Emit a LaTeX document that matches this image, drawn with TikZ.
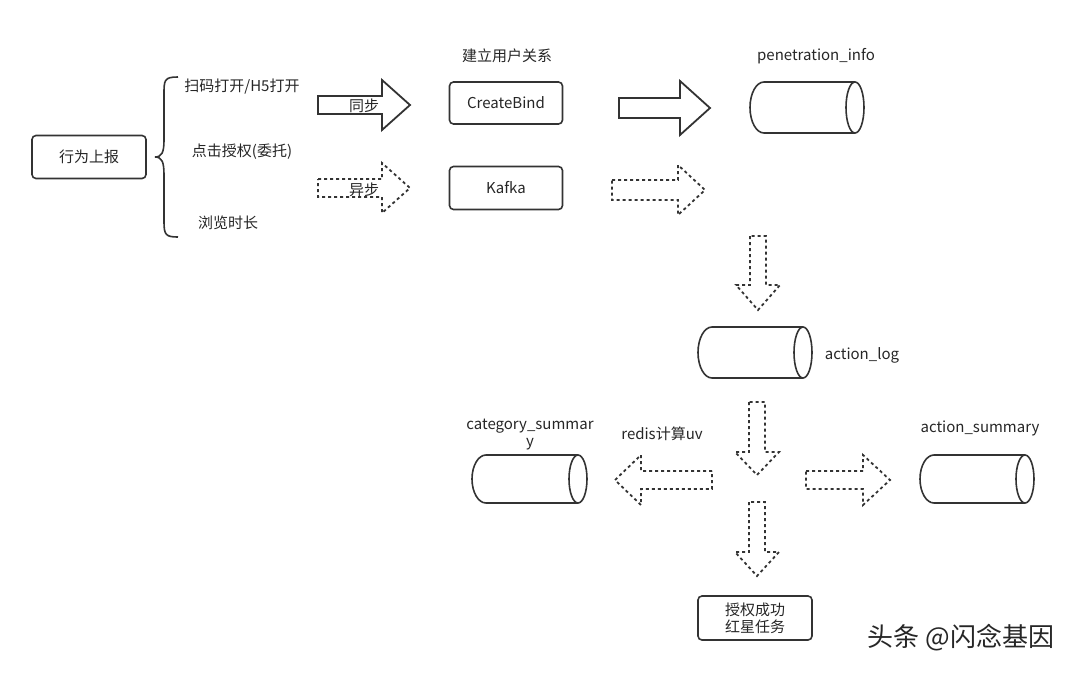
\documentclass[tikz,border=0pt]{standalone}
\usepackage{fontspec}
\setmainfont{Noto Sans CJK SC}
\begin{document}
\begin{tikzpicture}[x=1pt,y=-1pt,
  box/.style={draw=black!80,line width=1.6pt,rounded corners=4pt},
  lbl/.style={font=\fontsize{15}{17}\selectfont,text=black!85,inner sep=0pt},
  solidar/.style={draw=black!80,line width=1.8pt,line join=miter},
  dotar/.style={draw=black!80,line width=1.8pt,dash pattern=on 3pt off 3pt},
  cyl/.style={draw=black!80,line width=1.6pt}]
\useasboundingbox (0,0) rectangle (1080,673);
\newcommand\rarr[7]{\path[#7] (#1,#4-#5) -- (#3,#4-#5) -- (#3,#4-#6) -- (#2,#4) -- (#3,#4+#6) -- (#3,#4+#5) -- (#1,#4+#5) -- cycle;}
\newcommand\darr[7]{\path[#7] (#4-#5,#1) -- (#4-#5,#3) -- (#4-#6,#3) -- (#4,#2) -- (#4+#6,#3) -- (#4+#5,#3) -- (#4+#5,#1) -- cycle;}
\newcommand\cylh[4]{\path[cyl] (#2-9,#3) -- (#1+14,#3) arc[start angle=270,end angle=90,x radius=14,y radius={(#4-#3)/2}] -- (#2-9,#4); \path[cyl] (#2-9,{(#3+#4)/2}) ellipse[x radius=9,y radius={(#4-#3)/2}];}
\node[box,lbl,minimum width=114pt,minimum height=43pt] (xw) at (89,157) {行为上报};
\node[box,lbl,minimum width=113pt,minimum height=42pt] (cb) at (506,103) {CreateBind};
\node[box,lbl,minimum width=113pt,minimum height=43pt] (kf) at (506,188) {Kafka};
\node[box,lbl,minimum width=114pt,minimum height=44pt,align=center] (sq) at (755,618) {授权成功\\红星任务};
\draw[black!80,line width=1.6pt] (178,77) .. controls (164,77) and (164,80) .. (164,95) -- (164,140) .. controls (164,152) and (162,157) .. (155,157) .. controls (162,157) and (164,162) .. (164,175) -- (164,222) .. controls (164,235) and (166,237) .. (178,237);
\node[lbl] (t1) at (242,87) {扫码打开/H5打开};
\node[lbl] (t2) at (242,152) {点击授权(委托)};
\node[lbl] (t3) at (228,223) {浏览时长};
\node[lbl] (t4) at (507,56) {建立用户关系};
\rarr{318}{410}{382}{105}{9}{25}{solidar}
\node[lbl] (tb) at (364,106) {同步};
\rarr{619}{710}{680}{108}{10}{27}{solidar}
\rarr{318}{410}{382}{188}{9}{25}{dotar}
\node[lbl] (yb) at (364,190) {异步};
\rarr{612}{705}{678}{190}{10}{25}{dotar}
\darr{236}{310}{285}{758}{8}{22}{dotar}
\darr{402}{475}{452}{757}{8}{22}{dotar}
\darr{502}{576}{552}{757}{8}{22}{dotar}
\rarr{712}{615}{641}{480}{9}{25}{dotar}
\rarr{806}{890}{863}{480}{9}{25}{dotar}
\cylh{750}{864}{82}{133}
\cylh{698}{812}{327}{378}
\cylh{472}{587}{455}{503}
\cylh{920}{1034}{455}{503}
\node[lbl] (pi) at (816,56) {penetration\_info};
\node[lbl] (al) at (862,355) {action\_log};
\node[lbl,align=center] (cs) at (530,435) {category\_summar\\y};
\node[lbl] (rd) at (662,434) {redis计算uv};
\node[lbl] (as) at (980,428) {action\_summary};
\node[font=\fontsize{26}{28}\selectfont,text=black!85,inner sep=0pt] (wm) at (961,638) {头条 @闪念基因};
\end{tikzpicture}
\end{document}
